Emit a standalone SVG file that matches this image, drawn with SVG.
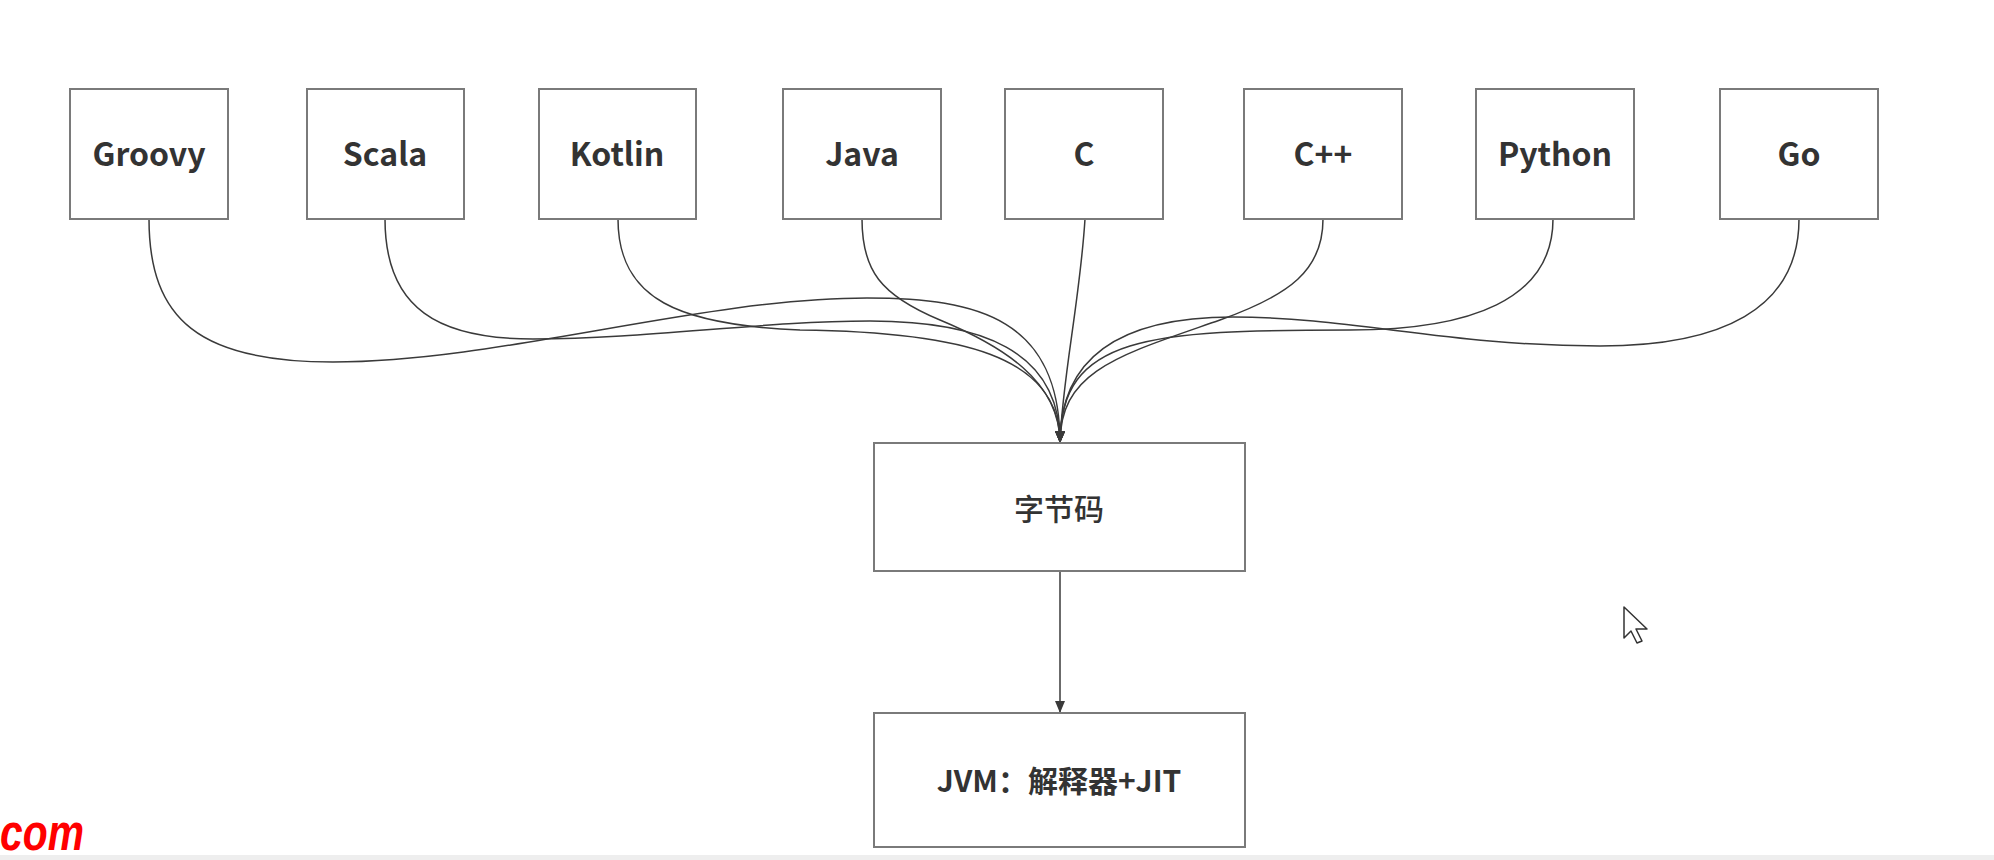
<svg xmlns="http://www.w3.org/2000/svg" width="1994" height="860" viewBox="0 0 1994 860">
<style>
  .box { fill: #ffffff; stroke: #7a7a7a; stroke-width: 2; }
  .lbl { font-family: "Noto Sans CJK SC", "Noto Sans", sans-serif; font-weight: bold; font-size: 32px; fill: #333333; text-anchor: middle; }
  .cn { font-family: "Noto Sans CJK SC", "Noto Sans", sans-serif; font-size: 30px; fill: #333333; text-anchor: middle; }
  .edge { fill: none; stroke: #3a3a3a; stroke-width: 1.5; }
</style>
<defs>
  <marker id="arrow" markerUnits="userSpaceOnUse" markerWidth="14" markerHeight="12" refX="12" refY="5" orient="auto">
    <path d="M0,0 L12,5 L0,10 Z" fill="#3a3a3a"/>
  </marker>
</defs>
<rect x="0" y="0" width="1994" height="860" fill="#ffffff"/>
<rect x="0" y="855" width="1994" height="5" fill="#eeeeee"/>

<g id="connectors">
  <path class="edge" marker-end="url(#arrow)" d="M149,219 C149,320 200,362 333,362 C500,362 700,298 867,298 C980,298 1060,320 1060,443"/>
  <path class="edge" marker-end="url(#arrow)" d="M385,219 C385,310 440,339 533,339 C650,339 760,321 870,321 C980,321 1060,350 1060,443"/>
  <path class="edge" marker-end="url(#arrow)" d="M618,219 C618,300 680,325 800,330 C960,332 1060,355 1060,443"/>
  <path class="edge" marker-end="url(#arrow)" d="M862,219 C862,270 880,295 940,320 C1000,345 1060,380 1060,443"/>
  <path class="edge" marker-end="url(#arrow)" d="M1085,219 C1080,300 1062,380 1060,443"/>
  <path class="edge" marker-end="url(#arrow)" d="M1323,219 C1323,270 1290,295 1220,320 C1120,355 1060,370 1060,443"/>
  <path class="edge" marker-end="url(#arrow)" d="M1553,219 C1553,300 1470,330 1350,330 C1150,330 1060,335 1060,443"/>
  <path class="edge" marker-end="url(#arrow)" d="M1799,219 C1799,310 1720,346 1600,346 C1450,346 1350,317 1233,317 C1130,317 1060,350 1060,443"/>
  <path class="edge" marker-end="url(#arrow)" d="M1060,571 L1060,713"/>
</g>

<g id="n-groovy"><rect class="box" x="70" y="89" width="158" height="130"/><text class="lbl" x="149" y="166">Groovy</text></g>
<g id="n-scala"><rect class="box" x="307" y="89" width="157" height="130"/><text class="lbl" x="385" y="166">Scala</text></g>
<g id="n-kotlin"><rect class="box" x="539" y="89" width="157" height="130"/><text class="lbl" x="617" y="166">Kotlin</text></g>
<g id="n-java"><rect class="box" x="783" y="89" width="158" height="130"/><text class="lbl" x="862" y="166">Java</text></g>
<g id="n-c"><rect class="box" x="1005" y="89" width="158" height="130"/><text class="lbl" x="1084" y="166">C</text></g>
<g id="n-cpp"><rect class="box" x="1244" y="89" width="158" height="130"/><text class="lbl" x="1323" y="166">C++</text></g>
<g id="n-python"><rect class="box" x="1476" y="89" width="158" height="130"/><text class="lbl" x="1555" y="166">Python</text></g>
<g id="n-go"><rect class="box" x="1720" y="89" width="158" height="130"/><text class="lbl" x="1799" y="166">Go</text></g>

<g id="n-bytecode"><rect class="box" x="874" y="443" width="371" height="128"/><text class="cn" x="1059" y="520" font-weight="500">字节码</text></g>
<g id="n-jvm"><rect class="box" x="874" y="713" width="371" height="134"/><text class="cn" x="1059" y="792" font-weight="bold">JVM：解释器+JIT</text></g>

<text x="0" y="850" font-family="Liberation Sans, sans-serif" font-weight="bold" font-style="italic" font-size="52" fill="#ff0000" textLength="84" lengthAdjust="spacingAndGlyphs">com</text>
<path d="M1624,607 L1624,638 L1631,631 L1637,643 L1642,641 L1636,629 L1647,629 Z" fill="#ffffff" stroke="#333333" stroke-width="1.5" stroke-linejoin="round"/>
</svg>
